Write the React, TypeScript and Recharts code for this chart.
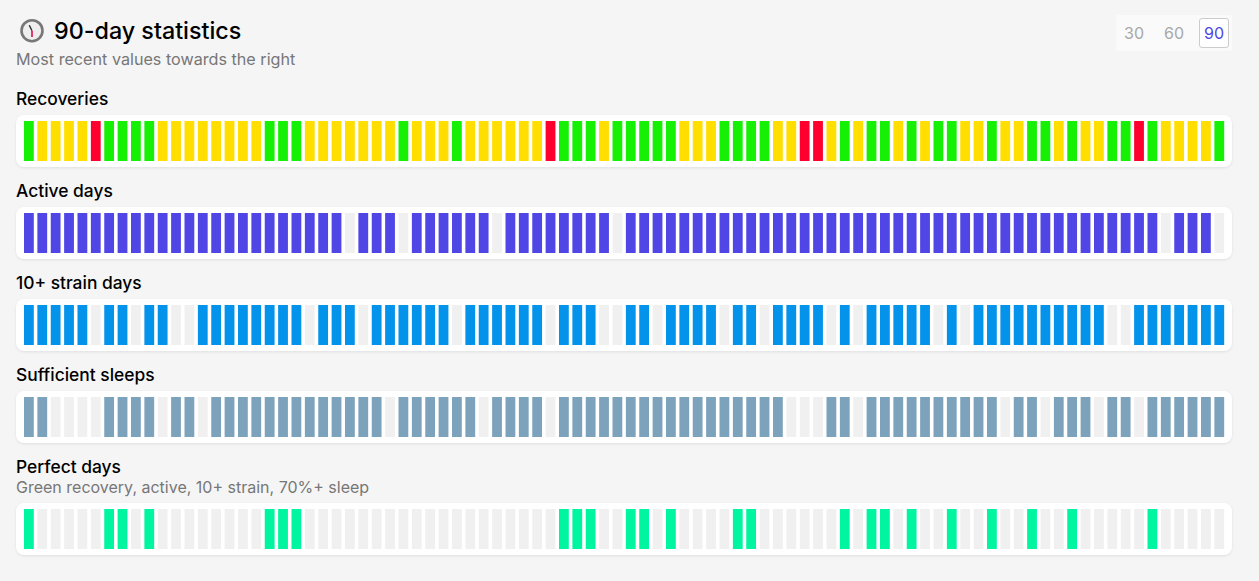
import React from "react";
import { BarChart, Bar, XAxis, YAxis, Cell } from "recharts";

const TITLE = "90-day statistics";
const SUBTITLE = "Most recent values towards the right";
const RANGE_OPTIONS = ["30", "60", "90"];
const PERFECT_NOTE = "Green recovery, active, 10+ strain, 70%+ sleep";

const recoveries = [
  "G","Y","Y","Y","Y","R","G","G","G","G",
  "Y","Y","Y","Y","Y","Y","Y","Y","G","G",
  "G","Y","Y","Y","Y","Y","Y","Y","G","Y",
  "Y","Y","G","Y","Y","Y","Y","Y","Y","R",
  "G","G","G","Y","G","G","G","G","G","Y",
  "Y","Y","G","G","G","G","Y","Y","R","R",
  "Y","G","Y","G","G","Y","G","Y","G","G",
  "Y","Y","G","Y","Y","G","G","Y","G","Y",
  "Y","G","G","R","G","Y","Y","Y","Y","G",
];
const activeDays = [
  1,1,1,1,1,1,1,1,1,1,
  1,1,1,1,1,1,1,1,1,1,
  1,1,1,1,0,1,1,1,0,1,
  1,1,1,1,1,0,1,1,1,1,
  1,1,1,1,0,1,1,1,1,1,
  1,1,1,1,1,1,1,1,1,1,
  1,1,1,1,1,1,1,1,1,1,
  1,1,1,1,1,1,1,1,1,1,
  1,1,1,1,1,0,1,1,1,0,
];
const strainDays = [
  1,1,1,1,1,0,1,1,0,1,
  1,0,0,1,1,1,1,1,1,1,
  1,0,1,1,1,0,1,1,1,1,
  1,1,0,1,1,1,1,1,1,0,
  1,1,1,0,0,1,1,0,1,1,
  1,1,0,1,1,0,1,1,1,1,
  0,1,0,1,1,1,1,1,0,1,
  0,1,1,1,1,1,1,1,1,1,
  1,0,0,1,1,1,1,1,1,1,
];
const sleepDays = [
  1,1,0,0,0,0,1,1,1,1,
  0,1,1,0,1,1,1,1,1,1,
  1,1,1,1,1,1,1,0,1,1,
  1,1,1,1,0,1,1,1,1,0,
  1,1,1,1,1,1,1,1,1,1,
  1,1,1,1,1,1,1,0,0,0,
  1,1,0,1,1,1,1,1,1,1,
  1,1,1,0,1,1,0,1,1,1,
  0,1,1,0,1,1,1,1,1,1,
];
const perfectDays = [
  1,0,0,0,0,0,1,1,0,1,
  0,0,0,0,0,0,0,0,1,1,
  1,0,0,0,0,0,0,0,0,0,
  0,0,0,0,0,0,0,0,0,0,
  1,1,1,0,0,1,1,0,1,0,
  0,0,0,1,1,0,0,0,0,0,
  0,1,0,1,1,0,1,0,0,1,
  0,0,1,0,0,1,0,0,1,0,
  0,0,0,0,1,0,0,0,0,0,
];

const RECOVERY_COLORS: Record<string, string> = { G: "#16f005", Y: "#ffde00", R: "#ff002e" };
const FONT = "Inter, 'Noto Sans', sans-serif";
const EMPTY = "#f0f0f0";
const CARD_W = 1216;
const CARD_H = 52;

function Strip({ top, values, color }: { top: number; values: (number | string)[]; color?: string }) {
  const rows = values.map((v, i) => {
    const hit = typeof v === "string" ? 1 : v;
    return { day: i + 1, hit, miss: 1 - hit, band: v };
  });
  return (
    <div
      style={{
        position: "absolute",
        left: 16,
        top,
        width: CARD_W,
        height: CARD_H,
        background: "#fff",
        borderRadius: 8,
        boxShadow: "0 1px 3px rgba(0,0,0,0.09)",
      }}
    >
      <BarChart
        width={CARD_W}
        height={CARD_H}
        data={rows}
        margin={{ top: 6, bottom: 6, left: 6.0, right: 6.25 }}
        barSize={9.8}
      >
        <XAxis dataKey="day" type="category" hide />
        <YAxis type="number" domain={[0, 1]} hide />
        <Bar dataKey="hit" stackId="d" isAnimationActive={false} fill={color}>
          {typeof values[0] === "string"
            ? rows.map((r) => <Cell key={r.day} fill={RECOVERY_COLORS[r.band as string]} />)
            : null}
        </Bar>
        <Bar dataKey="miss" stackId="d" isAnimationActive={false} fill={EMPTY} />
      </BarChart>
    </div>
  );
}

function Label({ top, children }: { top: number; children: React.ReactNode }) {
  return (
    <div
      style={{
        position: "absolute",
        left: 16,
        top,
        fontSize: 17.4,
        lineHeight: "20px",
        fontWeight: 500,
        color: "#000",
        whiteSpace: "nowrap",
      }}
    >
      {children}
    </div>
  );
}

function Note({ top, size, children }: { top: number; size: number; children: React.ReactNode }) {
  return (
    <div
      style={{
        position: "absolute",
        left: 16,
        top,
        fontSize: size,
        lineHeight: "20px",
        color: "#777",
        whiteSpace: "nowrap",
      }}
    >
      {children}
    </div>
  );
}

export default function App() {
  return (
    <div
      style={{
        position: "absolute",
        left: 0,
        top: 0,
        width: 1259,
        height: 581,
        overflow: "hidden",
        background: "#f5f5f5",
        fontFamily: FONT,
      }}
    >
      <svg style={{ position: "absolute", left: 18, top: 17 }} width={28} height={28} viewBox="0 0 28 28">
        <circle cx={14} cy={13.7} r={10.5} fill="#eeeeee" stroke="#777" strokeWidth={2.6} />
        <line x1={11.3} y1={8.3} x2={14} y2={13.7} stroke="#222" strokeWidth={1.3} />
        <line x1={14} y1={13.7} x2={14} y2={20} stroke="#e0245e" strokeWidth={1.8} />
      </svg>
      <div
        style={{
          position: "absolute",
          left: 54,
          top: 16,
          fontSize: 23.3,
          lineHeight: "30px",
          fontWeight: 500,
          color: "#000",
          whiteSpace: "nowrap",
        }}
      >
        {TITLE}
      </div>
      <Note top={49} size={16.17}>{SUBTITLE}</Note>

      <div style={{ position: "absolute", left: 1116, top: 15, width: 116, height: 36, background: "#fafafa", borderRadius: 2 }} />
      <div
        style={{
          position: "absolute",
          left: 1199,
          top: 18,
          width: 30,
          height: 30,
          boxSizing: "border-box",
          background: "#fff",
          border: "1px solid #ccc",
          borderRadius: 3,
        }}
      />
      {RANGE_OPTIONS.map((opt, i) => (
        <div
          key={opt}
          style={{
            position: "absolute",
            left: 1114 + i * 40,
            top: 18,
            width: 40,
            height: 30,
            lineHeight: "30px",
            textAlign: "center",
            fontSize: 16,
            color: i === 2 ? "#4f46e5" : "#a8a8a8",
          }}
        >
          {opt}
        </div>
      ))}

      <Label top={89}>Recoveries</Label>
      <Strip top={115} values={recoveries} />
      <Label top={181}>Active days</Label>
      <Strip top={207} values={activeDays} color="#4f46e5" />
      <Label top={273}>10+ strain days</Label>
      <Strip top={299} values={strainDays} color="#0393eb" />
      <Label top={365}>Sufficient sleeps</Label>
      <Strip top={391} values={sleepDays} color="#7da2bc" />
      <Label top={457}>Perfect days</Label>
      <Note top={477} size={16}>{PERFECT_NOTE}</Note>
      <Strip top={503} values={perfectDays} color="#00f5a0" />
    </div>
  );
}
